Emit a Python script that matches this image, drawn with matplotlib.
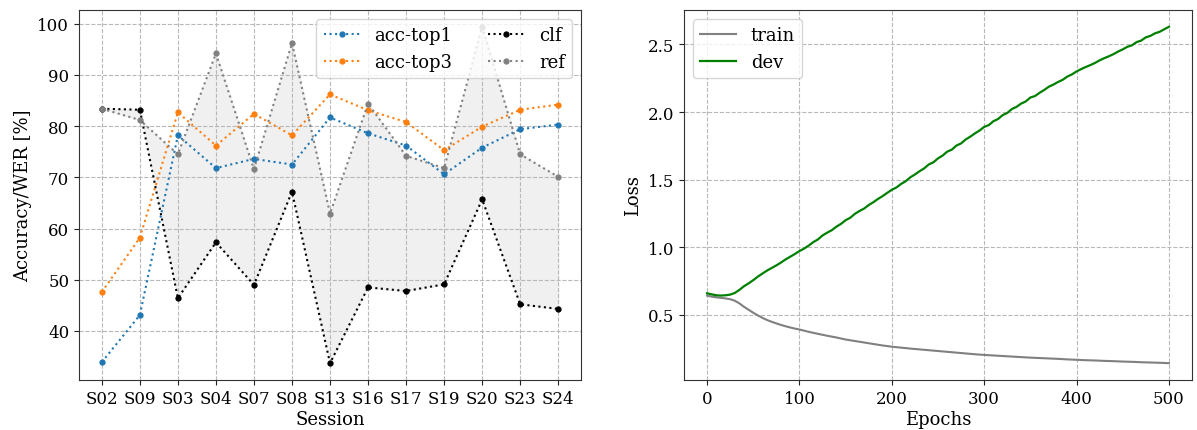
import matplotlib
matplotlib.use("Agg")
import matplotlib.pyplot as plt

plt.rcParams["font.family"] = "DejaVu Serif"
plt.rcParams["font.size"] = 12

# per-session scores
sessions = ["S02", "S09", "S03", "S04", "S07", "S08", "S13",
            "S16", "S17", "S19", "S20", "S23", "S24"]
acc_top1 = [33.9, 43.1, 78.2, 71.8, 73.6, 72.5, 81.7, 78.6, 76.2, 70.6, 75.8, 79.4, 80.3]
acc_top3 = [47.6, 58.2, 82.7, 76.2, 82.4, 78.2, 86.2, 83.1, 80.8, 75.3, 79.9, 83.2, 84.2]
clf = [83.4, 83.2, 46.4, 57.3, 49.0, 67.2, 33.7, 48.5, 47.8, 49.1, 65.7, 45.2, 44.3]
ref = [83.4, 81.2, 74.5, 94.2, 71.6, 96.2, 62.9, 84.4, 74.2, 71.8, 99.4, 74.5, 70.1]

# training curves
train_epochs = list(range(0, 101, 5)) + list(range(110, 501, 10))
train_loss = [0.643, 0.635, 0.630, 0.626, 0.622, 0.616, 0.605, 0.585, 0.560, 0.538,
              0.516, 0.496, 0.478, 0.462, 0.449, 0.437, 0.426, 0.416, 0.407, 0.399,
              0.392,
              0.375, 0.360, 0.346, 0.333, 0.318, 0.307, 0.296, 0.285, 0.274, 0.265,
              0.258, 0.251, 0.245, 0.239, 0.233, 0.227, 0.221, 0.215, 0.209, 0.204,
              0.200, 0.196, 0.192, 0.188, 0.184, 0.181, 0.178, 0.175, 0.171, 0.168,
              0.165, 0.163, 0.160, 0.158, 0.155, 0.153, 0.150, 0.148, 0.146, 0.143]
dev_epochs = list(range(0, 501, 5))
dev_loss = [0.660, 0.652, 0.645, 0.643, 0.645, 0.650, 0.662, 0.685, 0.712, 0.733,
            0.757, 0.783, 0.806, 0.828, 0.847, 0.866, 0.887, 0.910, 0.930, 0.950,
            0.972, 0.990, 1.012, 1.038, 1.058, 1.087, 1.108, 1.126, 1.152, 1.173,
            1.200, 1.218, 1.247, 1.268, 1.286, 1.312, 1.333, 1.357, 1.378, 1.402,
            1.425, 1.442, 1.468, 1.488, 1.517, 1.538, 1.562, 1.583, 1.612, 1.628,
            1.657, 1.678, 1.707, 1.722, 1.752, 1.768, 1.797, 1.818, 1.842, 1.863,
            1.890, 1.903, 1.932, 1.948, 1.977, 1.993, 2.022, 2.038, 2.062, 2.078,
            2.107, 2.118, 2.142, 2.163, 2.187, 2.203, 2.222, 2.238, 2.262, 2.278,
            2.300, 2.317, 2.333, 2.347, 2.363, 2.382, 2.398, 2.412, 2.428, 2.447,
            2.463, 2.482, 2.493, 2.517, 2.528, 2.552, 2.563, 2.582, 2.593, 2.612,
            2.630]

fig = plt.figure(figsize=(11.97, 4.31), dpi=100)
ax1 = fig.add_axes([0.066, 0.116, 0.4194, 0.8585])
ax2 = fig.add_axes([0.5714, 0.116, 0.4244, 0.8585])

grid_kw = dict(linestyle="--", color="#b8b8b8", linewidth=0.8)

x = range(len(sessions))
ax1.fill_between(x, clf, ref, color="#f0f0f0", zorder=0)
ax1.plot(x, acc_top1, ":o", color="tab:blue", markersize=3.5, label="acc-top1")
ax1.plot(x, acc_top3, ":o", color="tab:orange", markersize=3.5, label="acc-top3")
ax1.plot(x, clf, ":o", color="black", markersize=3.5, label="clf")
ax1.plot(x, ref, ":o", color="gray", markersize=3.5, label="ref")
ax1.set_xticks(list(x))
ax1.set_xticklabels(sessions)
ax1.set_xlabel("Session", fontsize=13, labelpad=2)
ax1.set_ylabel("Accuracy/WER [%]", fontsize=13)
ax1.grid(True, **grid_kw)
ax1.set_axisbelow(True)
ax1.legend(loc="upper right", ncol=2, fontsize=13)

ax2.plot(train_epochs, train_loss, color="gray", linewidth=1.5, label="train")
ax2.plot(dev_epochs, dev_loss, color="green", linewidth=1.6, label="dev")
ax2.set_xlabel("Epochs", fontsize=13, labelpad=2)
ax2.set_ylabel("Loss", fontsize=13)
ax2.set_xticks([0, 100, 200, 300, 400, 500])
ax2.set_yticks([0.5, 1.0, 1.5, 2.0, 2.5])
ax2.grid(True, **grid_kw)
ax2.set_axisbelow(True)
ax2.legend(loc="upper left", fontsize=13)

for ax in (ax1, ax2):
    for sp in ax.spines.values():
        sp.set_color("#333333")
    ax.tick_params(colors="#222222", labelcolor="black")

fig.savefig("out.png", dpi=100)
